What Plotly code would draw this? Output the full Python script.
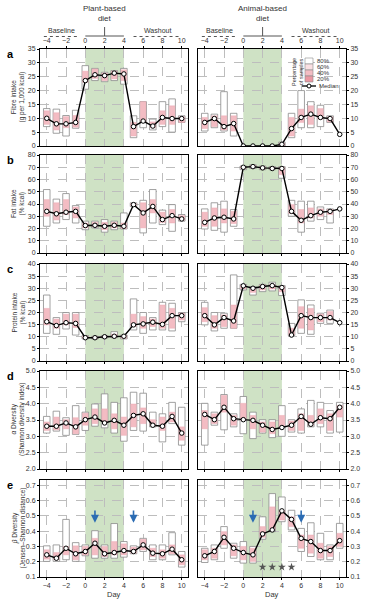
import plotly.graph_objects as go
from plotly.subplots import make_subplots

days = list(range(-4, 11))
xticks = [-4, -2, 0, 2, 4, 6, 8, 10]

# ---- Fibre intake (g per 1,000 kcal)
fib_p_med = [10, 8, 8, 8.5, 23.6, 25.7, 25.4, 26.3, 26, 7, 9, 7.2, 10.3, 9.9, 9.9]
fib_p_lo80 = [7, 4.6, 3.6, 6.4, 20.5, 23.6, 23.2, 23.6, 22.3, 3, 6.6, 5.8, 7, 5, 8.5]
fib_p_hi80 = [13.5, 13.3, 11, 12.9, 29, 28, 26.6, 27.2, 28, 10.9, 16, 9.7, 16, 17, 10.9]
fib_p_lo40 = [7.8, 5.8, 6.6, 6.8, 23, 24.4, 23.6, 24.2, 23.6, 3.6, 8.5, 6.6, 7.8, 7.8, 8.5]
fib_p_hi40 = [12.7, 12, 10.6, 11, 27, 27.8, 26.3, 27, 27.5, 8.5, 16, 8.7, 12.7, 14.5, 10.5]

fib_a_med = [8.5, 9.9, 7, 8.1, 0, 0, 0, 0, 0.6, 6.3, 10.3, 11.5, 10.3, 9.9, 4.2]
fib_a_lo80 = [5.4, 6.6, 5.4, 3.6, None, None, None, None, 0, 3, 6.6, 6.6, 7, 8.5, None]
fib_a_hi80 = [11.8, 11.5, 19.6, 11.8, None, None, None, None, 1.4, 11.8, 20, 16, 14.7, 10.9, None]
fib_a_lo40 = [6.3, 7, 5.8, 5.4, None, None, None, None, 0.2, 3.6, 8.5, 7.8, 9.7, 8.7, None]
fib_a_hi40 = [10.3, 10.9, 10.9, 10.9, None, None, None, None, 1.0, 10.3, 13.3, 14.5, 13.5, 10.5, None]

# ---- Fat intake (% kcal)
fat_p_med = [34, 32, 33.3, 34, 22.4, 22.6, 21.8, 22.6, 21.8, 39.5, 32.7, 38, 27.3, 30.5, 27.8]
fat_p_lo80 = [21.8, 24.5, 27.3, 24.5, 19, 20.5, 17, 19, 19.6, 38, 16.4, 24.5, 23.2, 17.7, 26]
fat_p_hi80 = [51.8, 44, 48.5, 38.7, 26, 26, 27.3, 26, 32.7, 41, 43, 51.8, 35, 39.5, 31.4]
fat_p_lo40 = [30, 27, 31.4, 28.6, 20.5, 21.3, 19, 20.5, 20, 38.7, 20.5, 32.7, 25, 24.5, 26.7]
fat_p_hi40 = [43.6, 41, 43.6, 37.6, 24.5, 25, 25, 25, 24.5, 40.4, 41, 43.6, 33.3, 35.5, 30.5]

fat_a_med = [25, 28.6, 29.2, 27.8, 70, 70.5, 69.5, 69, 69, 34, 26.7, 30.5, 33.3, 34, 36]
fat_a_lo80 = [19.6, 18.5, 17, 21.8, 68, 69, 68, 68, 61, 30, 17, 26, 27.3, 24.5, None]
fat_a_hi80 = [36, 41, 42.3, 35.5, 71, 72, 71, 70.5, 70.5, 43, 42.3, 42.3, 37.6, 36, None]
fat_a_lo40 = [21.8, 21.8, 24.5, 24, 69, 69.5, 68.5, 68.5, 64, 32.2, 24.5, 28.6, 30, 31.4, None]
fat_a_hi40 = [33.3, 36.8, 36, 34, 70.5, 71.5, 70.5, 70, 70, 39.5, 35.5, 36.8, 36, 35.5, None]

# ---- Protein intake (% kcal)
pro_p_med = [16.2, 14.6, 15.8, 15.5, 9.6, 9.6, 10, 10.2, 10.2, 14.9, 15.3, 16, 15.1, 18.7, 18.7]
pro_p_lo80 = [11.4, 11, 13.2, 10.7, 9.1, 9.1, 9.5, 9.6, 9.1, 12.8, 11.4, 12.8, 12.8, 12.4, 16.2]
pro_p_hi80 = [27.2, 17.9, 20, 20, 10.5, 10.2, 10.5, 12.1, 10.7, 25.6, 20, 17.9, 24.2, 23.8, 20]
pro_p_lo40 = [14.9, 13.5, 14.9, 13.8, 9.4, 9.3, 9.7, 9.8, 9.4, 14.2, 13.5, 14.2, 13.5, 13.5, 16.9]
pro_p_hi40 = [21.7, 17.3, 19.3, 19.3, 10.2, 10, 10.3, 11, 10.5, 19.3, 18.3, 17.3, 23.1, 21.7, 19.7]

pro_a_med = [18.7, 14.9, 17.9, 16.5, 31, 30, 30.7, 31.1, 30.3, 10.7, 18.7, 17.9, 17.9, 17.9, 15.8]
pro_a_lo80 = [14.9, 12.4, 13.5, 13.5, 29.3, 27.2, 28.6, 28.9, 27, 10.5, 11.4, 11, 15.5, 15.5, None]
pro_a_hi80 = [24.2, 20, 19.7, 35.5, 31.6, 30.7, 31.6, 32.5, 31.1, 15.5, 25.2, 23.1, 19.7, 21, None]
pro_a_lo40 = [16.2, 13.5, 14.2, 13.5, 29.8, 28.3, 29.3, 29.7, 28.6, 10.7, 13.5, 12.8, 16.2, 16.9, None]
pro_a_hi40 = [22, 18.7, 19, 23.1, 31.3, 30.3, 31.4, 31.6, 30.7, 13.5, 22.4, 21.7, 19.3, 20.4, None]

# ---- alpha diversity (Shannon)
alp_p_med = [3.31, 3.31, 3.41, 3.29, 3.51, 3.59, 3.41, 3.49, 3.34, 3.64, 3.69, 3.34, 3.31, 3.61, 3.10]
alp_p_lo80 = [3.10, 3.16, 3.03, 3.06, 3.18, 3.31, 3.26, 3.10, 2.85, 3.18, 3.16, 3.29, 2.83, 3.39, 2.73]
alp_p_hi80 = [3.61, 3.77, 3.57, 3.94, 3.74, 3.99, 4.30, 4.04, 4.18, 4.35, 4.32, 3.74, 3.69, 4.04, 3.89]
alp_p_lo40 = [3.18, 3.20, 3.23, 3.08, 3.34, 3.39, 3.44, 3.23, 3.03, 3.29, 3.39, 3.31, 3.18, 3.44, 2.88]
alp_p_hi40 = [3.44, 3.59, 3.51, 3.57, 3.71, 3.84, 3.84, 3.69, 3.59, 3.99, 3.87, 3.51, 3.59, 3.74, 3.29]

alp_a_med = [3.67, 3.51, 3.89, 3.54, 3.51, 3.49, 3.34, 3.21, 3.27, 3.34, 3.61, 3.37, 3.57, 3.54, 3.89]
alp_a_lo80 = [2.73, 3.34, 3.20, 3.29, 3.08, 2.93, 3.10, 2.96, 3.00, 3.13, 3.10, 3.29, 3.29, 3.10, 3.13]
alp_a_hi80 = [4.01, 3.74, 4.28, 3.69, 4.22, 3.74, 3.51, 3.51, 3.94, 3.51, 3.84, 4.10, 4.04, 3.79, 4.04]
alp_a_lo40 = [3.23, 3.39, 3.74, 3.34, 3.49, 3.23, 3.13, 3.08, 3.29, 3.18, 3.18, 3.34, 3.39, 3.18, 3.59]
alp_a_hi40 = [3.79, 3.69, 4.25, 3.64, 4.01, 3.64, 3.44, 3.44, 3.64, 3.47, 3.69, 3.64, 3.84, 3.69, 3.94]

# ---- beta diversity (Jensen-Shannon)
bet_p_med = [0.245, 0.223, 0.288, 0.252, 0.267, 0.321, 0.252, 0.26, 0.273, 0.267, 0.31, 0.256, 0.252, 0.282, 0.213]
bet_p_lo80 = [0.202, 0.202, 0.213, 0.202, 0.239, 0.223, 0.223, 0.223, 0.23, 0.252, 0.267, 0.213, 0.213, 0.245, 0.165]
bet_p_hi80 = [0.304, 0.31, 0.477, 0.325, 0.31, 0.403, 0.31, 0.45, 0.332, 0.304, 0.353, 0.31, 0.31, 0.39, 0.267]
bet_p_lo40 = [0.217, 0.213, 0.245, 0.213, 0.245, 0.245, 0.234, 0.245, 0.245, 0.256, 0.278, 0.234, 0.223, 0.252, 0.18]
bet_p_hi40 = [0.278, 0.26, 0.3, 0.304, 0.3, 0.353, 0.3, 0.332, 0.317, 0.295, 0.347, 0.288, 0.278, 0.31, 0.245]

bet_a_med = [0.239, 0.267, 0.36, 0.288, 0.26, 0.245, 0.382, 0.408, 0.533, 0.477, 0.353, 0.332, 0.273, 0.273, 0.338]
bet_a_lo80 = [0.195, 0.213, 0.288, 0.223, 0.191, 0.191, 0.347, 0.397, 0.462, 0.408, 0.267, 0.234, 0.213, 0.213, 0.288]
bet_a_hi80 = [0.288, 0.31, 0.43, 0.321, 0.332, 0.3, 0.494, 0.646, 0.624, 0.537, 0.418, 0.455, 0.386, 0.31, 0.451]
bet_a_lo40 = [0.213, 0.223, 0.31, 0.239, 0.213, 0.202, 0.36, 0.408, 0.473, 0.43, 0.288, 0.256, 0.223, 0.234, 0.3]
bet_a_hi40 = [0.278, 0.288, 0.397, 0.31, 0.3, 0.288, 0.43, 0.559, 0.537, 0.494, 0.375, 0.375, 0.321, 0.3, 0.386]

arrow_days_plant = [1, 5]
arrow_days_animal = [1, 6]
arrow_top, arrow_tip = 0.545, 0.455
star_days = [2, 3, 4, 5]
star_level = 0.165

diet_start, diet_end = 0, 4

y_titles = ["Fibre intake<br>(g per 1,000 kcal)", "Fat intake<br>(% kcal)",
            "Protein intake<br>(% kcal)", "<i>α</i> Diversity<br>(Shannon diversity index)",
            "<i>β</i> Diversity<br>(Jensen–Shannon distance)"]
panel_letters = ["a", "b", "c", "d", "e"]
y_ranges = [[0, 35], [0, 80], [0, 40], [2, 5], [0.1, 0.735]]
y_dticks = [5, 10, 5, 0.5, 0.1]
y_formats = ["d", "d", "d", ".1f", ".1f"]

panels = [
    [(fib_p_med, fib_p_lo80, fib_p_hi80, fib_p_lo40, fib_p_hi40),
     (fib_a_med, fib_a_lo80, fib_a_hi80, fib_a_lo40, fib_a_hi40)],
    [(fat_p_med, fat_p_lo80, fat_p_hi80, fat_p_lo40, fat_p_hi40),
     (fat_a_med, fat_a_lo80, fat_a_hi80, fat_a_lo40, fat_a_hi40)],
    [(pro_p_med, pro_p_lo80, pro_p_hi80, pro_p_lo40, pro_p_hi40),
     (pro_a_med, pro_a_lo80, pro_a_hi80, pro_a_lo40, pro_a_hi40)],
    [(alp_p_med, alp_p_lo80, alp_p_hi80, alp_p_lo40, alp_p_hi40),
     (alp_a_med, alp_a_lo80, alp_a_hi80, alp_a_lo40, alp_a_hi40)],
    [(bet_p_med, bet_p_lo80, bet_p_hi80, bet_p_lo40, bet_p_hi40),
     (bet_a_med, bet_a_lo80, bet_a_hi80, bet_a_lo40, bet_a_hi40)],
]

# ---------------- layout geometry (page body margin is removed in the html)
W, H = 365, 601
PL, PR, PT, PB = 40, 346, 49, 577          # plot area in pixels
L, T, R, B = PL, PT, W - PR, H - PB
PW, PH = PR - PL, PB - PT
FONT = "Liberation Sans, Arial, sans-serif"
TXT = "#333333"


def fx(p):
    return (p - PL) / PW


def fy(p):
    return (PB - p) / PH


def note(x, y, text, size=7, xanchor="center", color=TXT, angle=0, xref="paper"):
    fig.add_annotation(x=x, y=y, xref=xref, yref="paper", text=text, showarrow=False,
                       xanchor=xanchor, yanchor="middle", textangle=angle,
                       font=dict(size=size, color=color, family=FONT))


col_px = [(40, 188), (198, 346)]
row_px = [(49, 146), (155, 253), (264, 361), (371, 469), (480, 577)]

fig = make_subplots(rows=5, cols=2)

GREEN = "#cfe2c5"
PINK = "#f3bcc3"
GRID = "#bdbdbd"

for r in range(5):
    for c in range(2):
        idx = r * 2 + c + 1
        sfx = "" if idx == 1 else str(idx)
        xa, ya = "x" + sfx, "y" + sfx
        med, lo80, hi80, lo40, hi40 = panels[r][c]
        h80 = [None if a is None else b - a for a, b in zip(lo80, hi80)]
        h40 = [None if a is None else b - a for a, b in zip(lo40, hi40)]
        fig.add_trace(go.Bar(x=days, y=h80, base=lo80, width=0.68,
                             marker=dict(color="white", line=dict(color="#8a8a8a", width=0.8)),
                             showlegend=False, hoverinfo="skip"), row=r + 1, col=c + 1)
        fig.add_trace(go.Bar(x=days, y=h40, base=lo40, width=0.58,
                             marker=dict(color=PINK, line=dict(color="#eaa3ad", width=0.4)),
                             showlegend=False, hoverinfo="skip"), row=r + 1, col=c + 1)
        fig.add_trace(go.Scatter(x=days, y=med, mode="lines+markers",
                                 line=dict(color="black", width=1.4),
                                 marker=dict(symbol="circle", size=4.5, color="white",
                                             line=dict(color="black", width=1)),
                                 showlegend=False, hoverinfo="skip"), row=r + 1, col=c + 1)
        # diet shading
        fig.add_shape(type="rect", xref=xa, yref=ya + " domain", x0=diet_start, x1=diet_end,
                      y0=0, y1=1, fillcolor=GREEN, line=dict(width=0), layer="below")
        x0, x1 = col_px[c]
        y0, y1 = row_px[r]
        show_x = (r == 0) or (r == 4)
        fig.update_layout({
            "xaxis" + sfx: dict(domain=[fx(x0), fx(x1)], range=[-4.7, 10.65], tickvals=xticks,
                                showgrid=True, griddash="dash", gridcolor=GRID, gridwidth=0.6,
                                showline=True, mirror=True, linecolor="black", linewidth=1,
                                ticks="outside", ticklen=2, tickcolor="black",
                                showticklabels=show_x, side="top" if r == 0 else "bottom",
                                zeroline=False, tickfont=dict(size=7, color=TXT, family=FONT)),
            "yaxis" + sfx: dict(domain=[fy(y1), fy(y0)], range=y_ranges[r], dtick=y_dticks[r],
                                tick0=y_ranges[r][0], tickformat=y_formats[r],
                                showgrid=True, griddash="dash", gridcolor=GRID, gridwidth=0.6,
                                showline=True, mirror=True, linecolor="black", linewidth=1,
                                ticks="outside", ticklen=2, tickcolor="black",
                                side="left" if c == 0 else "right", zeroline=False,
                                tickfont=dict(size=7, color=TXT, family=FONT)),
        })

# arrows and stars on panel e
for d in arrow_days_plant:
    fig.add_annotation(x=d, y=arrow_tip, ax=d, ay=arrow_top, xref="x9", yref="y9",
                       axref="x9", ayref="y9", showarrow=True, arrowhead=2, arrowsize=1,
                       arrowwidth=1.6, arrowcolor="#2c6cb3", text="")
for d in arrow_days_animal:
    fig.add_annotation(x=d, y=arrow_tip, ax=d, ay=arrow_top, xref="x10", yref="y10",
                       axref="x10", ayref="y10", showarrow=True, arrowhead=2, arrowsize=1,
                       arrowwidth=1.6, arrowcolor="#2c6cb3", text="")
fig.add_trace(go.Scatter(x=star_days, y=[star_level] * len(star_days), mode="markers",
                         marker=dict(symbol="star", size=6, color="#555555"),
                         showlegend=False, hoverinfo="skip"), row=5, col=2)

# y titles and panel letters
for r in range(5):
    y0, y1 = row_px[r]
    note(fx(18), fy((y0 + y1) / 2), y_titles[r], size=6.5, angle=-90)
    note(fx(10), fy(y0 + 5), "<b>" + panel_letters[r] + "</b>", size=11, color="black")

# Day labels
for c in range(2):
    x0, x1 = col_px[c]
    note(fx((x0 + x1) / 2), fy(594), "Day", size=7.5)

# header: diet labels, baseline and washout
headers = [("Plant-based<br>diet", "x"), ("Animal-based<br>diet", "x2")]
for text, xr in headers:
    note(2, fy(14), text, size=8, xref=xr)
    fig.add_shape(type="line", xref=xr, yref="paper", x0=diet_start, x1=diet_end,
                  y0=fy(36), y1=fy(36), line=dict(color="#555555", width=1))
    fig.add_shape(type="line", xref=xr, yref="paper", x0=2, x1=2,
                  y0=fy(27), y1=fy(36), line=dict(color="#555555", width=1))
    note(-2.5, fy(31), "Baseline", xref=xr)
    fig.add_shape(type="line", xref=xr, yref="paper", x0=-4.3, x1=-0.7,
                  y0=fy(36.5), y1=fy(36.5), line=dict(color="#555555", width=1, dash="dot"))
    note(7.5, fy(31), "Washout", xref=xr)
    fig.add_shape(type="line", xref=xr, yref="paper", x0=5, x1=9.8,
                  y0=fy(36.5), y1=fy(36.5), line=dict(color="#555555", width=1, dash="dot"))

# legend in panel a (right)
leg_x0, leg_x1 = 305, 313
leg_rows = [("80%", "white"), ("60%", "#fae0e3"), ("40%", "#f3bcc3"), ("20%", "#eb98a3")]
ytop = 58
for i, (lab, colr) in enumerate(leg_rows):
    ya0, ya1 = ytop + i * 6, ytop + (i + 1) * 6
    fig.add_shape(type="rect", xref="paper", yref="paper", x0=fx(leg_x0), x1=fx(leg_x1),
                  y0=fy(ya1), y1=fy(ya0), fillcolor=colr, line=dict(color="#8a8a8a", width=0.6))
    note(fx(315), fy(ya0 + 3), lab, size=6, xanchor="left")
ym = ytop + 4 * 6 + 4
fig.add_shape(type="line", xref="paper", yref="paper", x0=fx(302), x1=fx(316),
              y0=fy(ym), y1=fy(ym), line=dict(color="black", width=1.3))
fig.add_shape(type="circle", xref="paper", yref="paper", x0=fx(307), x1=fx(311),
              y0=fy(ym + 2), y1=fy(ym - 2), fillcolor="white", line=dict(color="black", width=1))
note(fx(317), fy(ym), "Median", size=6, xanchor="left")
note(fx(297), fy(ytop + 14), "Percentage<br>of samples", size=5.5, angle=-90)

fig.update_layout(width=W, height=H, margin=dict(l=L, r=R, t=T, b=B, autoexpand=False),
                  barmode="overlay", paper_bgcolor="white", plot_bgcolor="white",
                  font=dict(family=FONT, size=7, color=TXT), showlegend=False)

fig.write_html("out.html", config={"displayModeBar": False},
               post_script="document.body.style.margin='0';document.body.style.overflow='hidden';")
